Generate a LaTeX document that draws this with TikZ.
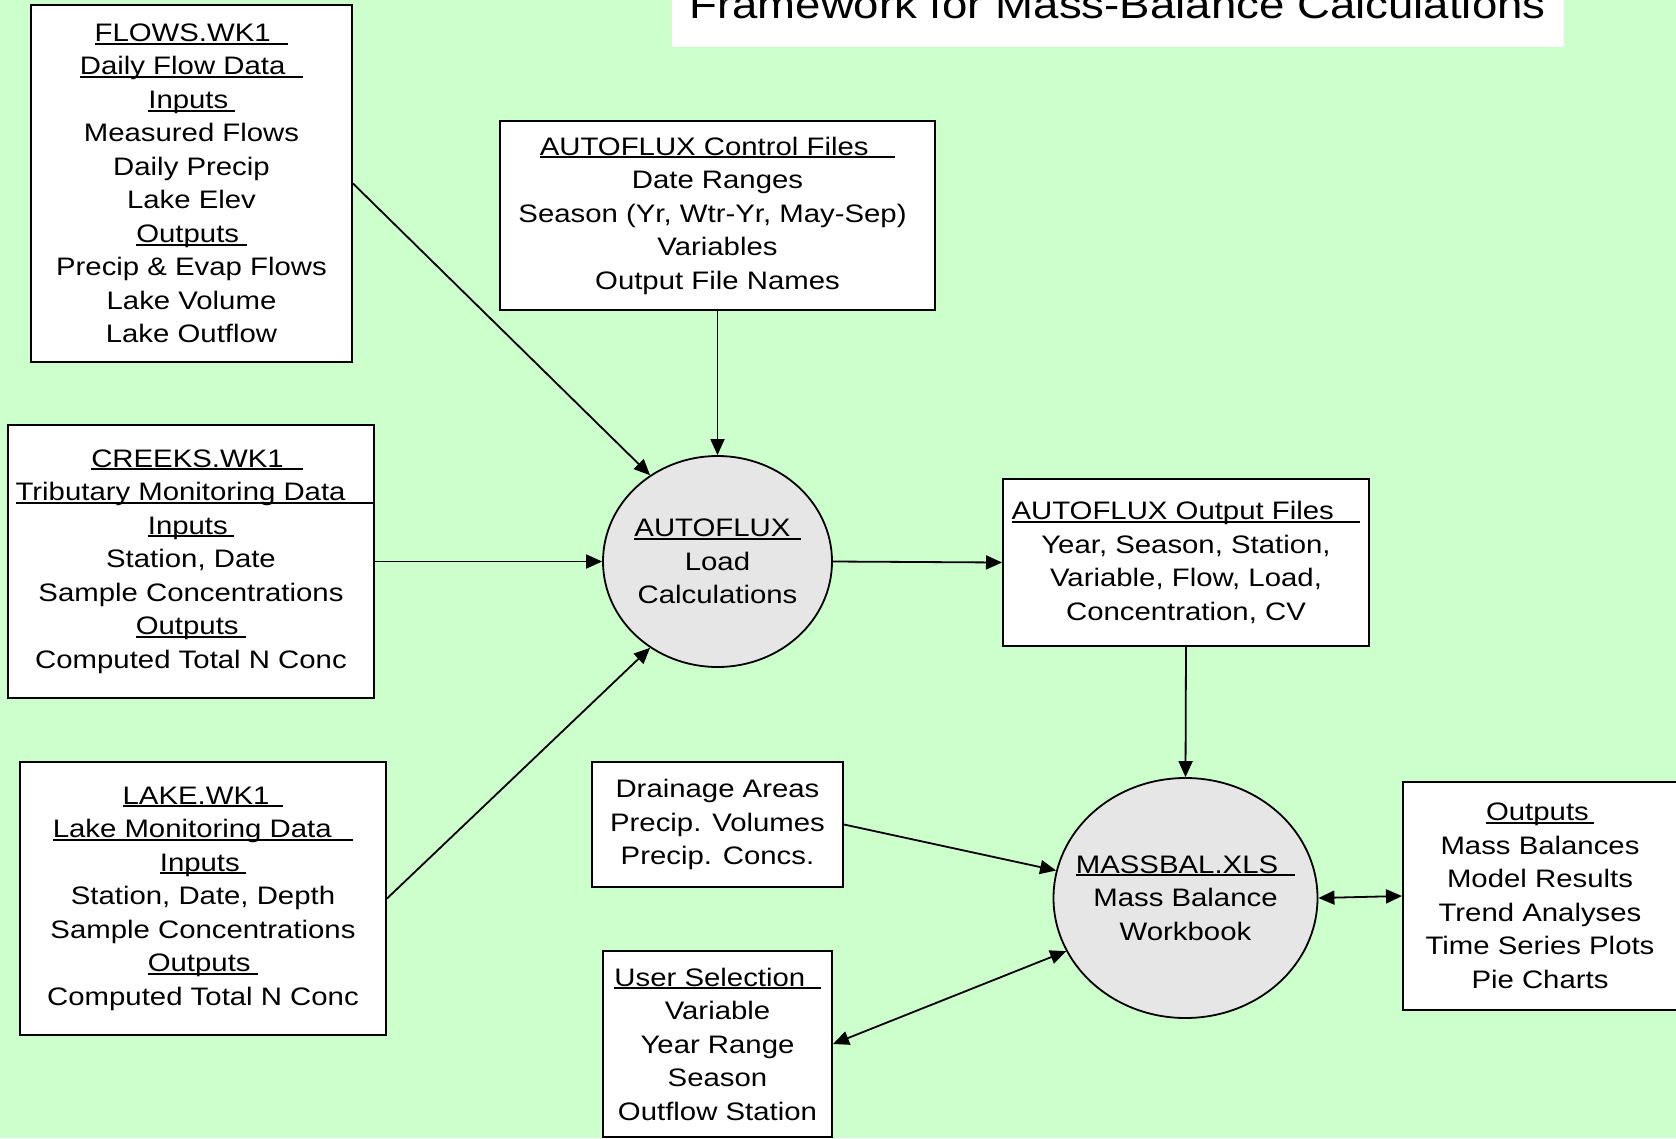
\documentclass[tikz,border=0pt]{standalone}
\usepackage{fontspec}
\setmainfont{Liberation Sans}[FakeStretch=1.16]
\usetikzlibrary{arrows.meta,shapes.geometric}
\definecolor{bgc}{HTML}{CCFFCC}
\definecolor{cfill}{HTML}{E6E6E6}
\newcommand{\ulin}[2][0.3em]{\setbox0\hbox{#2\hspace{#1}}\rlap{\rule[-0.12em]{\wd0}{0.07em}}\box0}
\newcommand{\shiftl}[2]{\hspace*{#1}#2\hspace*{-#1}}
\begin{document}
\begin{tikzpicture}[x=1pt,y=-1pt,
  every node/.style={font=\fontsize{25.3}{33.5}\selectfont, inner sep=0pt},
  box/.style={draw, line width=2pt, fill=white, align=center},
  proc/.style={ellipse, draw, line width=1.8pt, fill=cfill},
  txt/.style={align=center},
  conn/.style={line width=1.8pt, -{Triangle[length=16pt,width=14pt]}},
  bconn/.style={line width=1.8pt, {Triangle[length=16pt,width=14pt]}-{Triangle[length=16pt,width=14pt]}}]
\useasboundingbox (0,0) rectangle (1676,1138);
\clip (0,0) rectangle (1676,1138);
\fill[bgc] (0,0) rectangle (1676,1138);

% title
\node[fill=white, minimum width=892pt, minimum height=66pt] (titlebox) at (1117.5,14) {};
\node[anchor=base, font=\fontsize{39.3}{44}\selectfont] (title) at (1117.5,18) {Framework for Mass-Balance Calculations};

% boxes
\node[box, minimum width=321pt, minimum height=357pt] (flows) at (191.5,183.5)
  {\ulin[0.7em]{FLOWS.WK1}\\\ulin[0.7em]{Daily Flow Data}\\\ulin[0.25em]{Inputs}\\Measured Flows\\Daily Precip\\Lake Elev\\\ulin[0.3em]{Outputs}\\Precip \& Evap Flows\\Lake Volume\\Lake Outflow};

\node[box, minimum width=435pt, minimum height=189pt] (ctrl) at (717.5,215.5)
  {\ulin[1.05em]{AUTOFLUX Control Files}\\Date Ranges\\\shiftl{-10pt}{Season (Yr, Wtr-Yr, May-Sep)}\\Variables\\Output File Names};

\node[box, minimum width=365.5pt, minimum height=273pt] (creeks) at (191,561.5)
  {\shiftl{6pt}{\ulin[0.75em]{CREEKS.WK1}}\\\shiftl{7pt}{\ulin[1.1em]{Tributary Monitoring Data}}\\\ulin[0.25em]{Inputs}\\Station, Date\\Sample Concentrations\\\ulin[0.3em]{Outputs}\\Computed Total N Conc};

\node[box, minimum width=366pt, minimum height=273pt] (lake) at (203,898.5)
  {\ulin[0.55em]{LAKE.WK1}\\\ulin[0.85em]{Lake Monitoring Data}\\\ulin[0.25em]{Inputs}\\Station, Date, Depth\\Sample Concentrations\\\ulin[0.3em]{Outputs}\\Computed Total N Conc};

\node[box, minimum width=366pt, minimum height=167pt] (outfiles) at (1186,562.5)
  {\ulin[1.05em]{AUTOFLUX Output Files}\\Year, Season, Station,\\Variable, Flow, Load,\\Concentration, CV};

\node[box, minimum width=251pt, minimum height=125pt] (drain) at (717.5,824.5)
  {Drainage Areas\\Precip. Volumes\\Precip. Concs.};

\node[box, minimum width=229pt, minimum height=186pt] (user) at (717.5,1044)
  {\ulin[0.6em]{User Selection}\\Variable\\Year Range\\Season\\Outflow Station};

\node[box, minimum width=274pt, minimum height=228pt] (outputs) at (1540,896)
  {\ulin[0.2em]{Outputs}\\Mass Balances\\Model Results\\Trend Analyses\\Time Series Plots\\Pie Charts};

% processes
\node[proc, minimum width=229pt, minimum height=211pt] (autoflux) at (717.5,561.5) {};
\node[txt] (autofluxtxt) at (717.5,561.5) {\ulin[0.4em]{AUTOFLUX}\\Load\\Calculations};

\node[proc, minimum width=264pt, minimum height=240pt] (massbal) at (1185.5,898) {};
\node[txt] (massbaltxt) at (1185.5,898) {\ulin[0.67em]{MASSBAL.XLS}\\Mass Balance\\Workbook};

% connectors
\draw[conn] (flows.east) -- (autoflux.128);
\draw[conn] (ctrl.south) -- (autoflux.north);
\draw[conn] (creeks.east) -- (autoflux.west);
\draw[conn] (lake.east) -- (autoflux.232);
\draw[conn] (autoflux.east) -- (outfiles.west);
\draw[conn] (outfiles.south) -- (massbal.north);
\draw[conn] (drain.east) -- (massbal.168);
\draw[bconn] (user.east) -- (massbal.204);
\draw[bconn] (massbal.east) -- (outputs.west);
\end{tikzpicture}
\end{document}
